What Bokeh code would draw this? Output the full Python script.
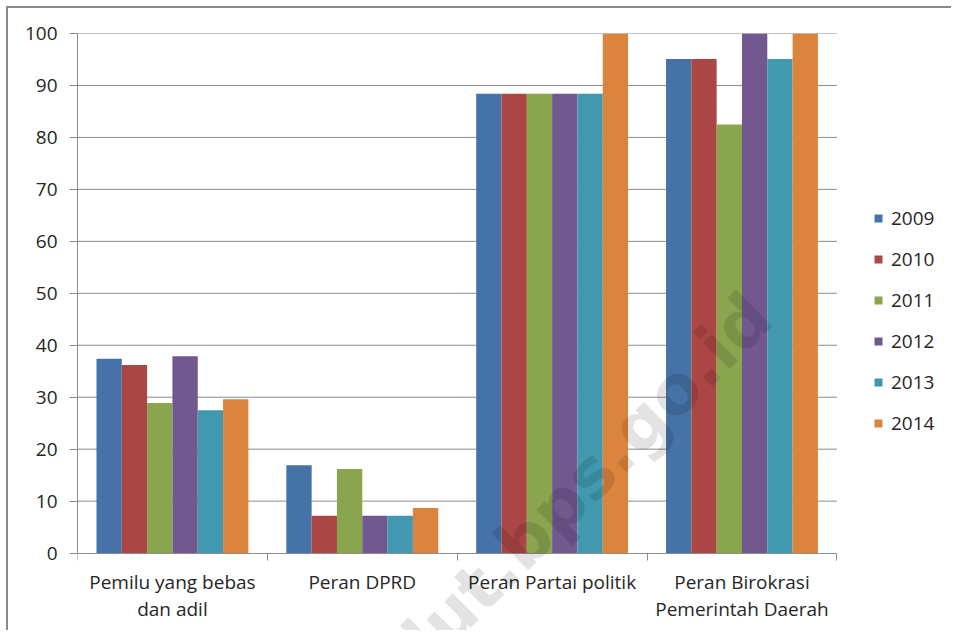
from bokeh.plotting import figure
from bokeh.models import FixedTicker, Legend, LegendItem, Range1d, Label
from bokeh.embed import file_html
from bokeh.resources import INLINE

# ---- data ----
categories = ["Pemilu yang bebas\ndan adil", "Peran DPRD", "Peran Partai politik",
              "Peran Birokrasi\nPemerintah Daerah"]
years = ["2009", "2010", "2011", "2012", "2013", "2014"]
v2009 = [37.4, 16.9, 88.4, 95.1]
v2010 = [36.2, 7.2, 88.4, 95.1]
v2011 = [28.9, 16.2, 88.4, 82.5]
v2012 = [37.9, 7.2, 88.4, 100.0]
v2013 = [27.5, 7.2, 88.4, 95.1]
v2014 = [29.6, 8.7, 100.0, 100.0]
series = [v2009, v2010, v2011, v2012, v2013, v2014]
y_ticks = [0, 10, 20, 30, 40, 50, 60, 70, 80, 90, 100]
watermark = "malut.bps.go.id"

# ---- styles / layout ----
colors = ["#4572A7", "#AA4643", "#89A54E", "#71588F", "#4198AF", "#DB843D"]
FONT = "Open Sans"
FS = "19px"
TEXT_COLOR = "#262626"
GRID = "#8c8c8c"
group_width = 0.8
bar_w = group_width / len(years)
n_cat = len(categories)
W, H = 945, 624
LEFT, TOP = 69, 25
CAT_PX = 189.85            # pixels per category
UNIT_PX = 5.196            # pixels per value unit
x_end = (W - LEFT) / CAT_PX
y_start = -((H - TOP) / UNIT_PX - 100)

p = figure(width=W, height=H, output_backend="svg", toolbar_location=None,
           x_range=Range1d(0, x_end), y_range=Range1d(y_start, 100),
           min_border_left=LEFT, min_border_top=TOP, min_border_bottom=0,
           min_border_right=0)
p.styles = {"border-left": "2px solid #8a8a8a", "border-top": "2px solid #8a8a8a",
            "margin-left": "6px", "margin-top": "6px"}
p.outline_line_color = None
p.background_fill_color = "white"
p.xgrid.grid_line_color = None
p.ygrid.grid_line_color = None

# horizontal gridlines spanning the category area only
gl = [t for t in y_ticks if t > 0]
p.segment(x0=[0] * len(gl), x1=[n_cat] * len(gl), y0=gl, y1=gl,
          line_color=GRID, line_width=1, level="underlay")

renderers = []
for j, (yr, vals) in enumerate(zip(years, series)):
    xs = [i + (1 - group_width) / 2 + (j + 0.5) * bar_w for i in range(n_cat)]
    r = p.vbar(x=xs, top=vals, bottom=0, width=bar_w, fill_color=colors[j], line_color=None)
    renderers.append(r)

# x axis at value 0
xa = p.xaxis[0]
xa.fixed_location = 0
xa.bounds = (0, n_cat)
xa.ticker = FixedTicker(ticks=[i + 0.5 for i in range(n_cat)],
                        minor_ticks=list(range(n_cat + 1)))
xa.major_label_overrides = {i + 0.5: c for i, c in enumerate(categories)}
xa.major_tick_line_color = None
xa.major_tick_out = 0
xa.minor_tick_out = 7
xa.minor_tick_in = 0
xa.minor_tick_line_color = GRID
xa.axis_line_color = GRID
xa.major_label_text_font = FONT
xa.major_label_text_font_size = FS
xa.major_label_text_color = TEXT_COLOR
xa.major_label_text_line_height = 1.05
xa.major_label_standoff = 9

# y axis
ya = p.yaxis[0]
ya.bounds = (0, 100)
ya.ticker = FixedTicker(ticks=y_ticks)
ya.major_tick_out = 8
ya.major_tick_in = 0
ya.minor_tick_line_color = None
ya.major_tick_line_color = GRID
ya.axis_line_color = GRID
ya.major_label_text_font = FONT
ya.major_label_text_font_size = FS
ya.major_label_text_color = TEXT_COLOR
ya.major_label_standoff = 12

legend = Legend(items=[LegendItem(label=yr, renderers=[r]) for yr, r in zip(years, renderers)],
                location=(796, 196), glyph_width=10, glyph_height=10, label_height=26,
                spacing=15, padding=0, margin=0, label_standoff=8,
                label_text_font=FONT, label_text_font_size=FS,
                label_text_color=TEXT_COLOR, border_line_color=None,
                background_fill_alpha=0)
p.add_layout(legend, "center")

# watermark of the source
wm_x, wm_y = 2.47, 6.6
p.add_layout(Label(x=wm_x, y=wm_y, text=watermark, angle=45, angle_units="deg",
                   text_align="center", text_baseline="middle", text_font="DejaVu Sans",
                   text_font_style="bold", text_font_size="68px", text_color="black",
                   text_alpha=0.11))

open("out.html", "w").write(file_html(p, INLINE))
